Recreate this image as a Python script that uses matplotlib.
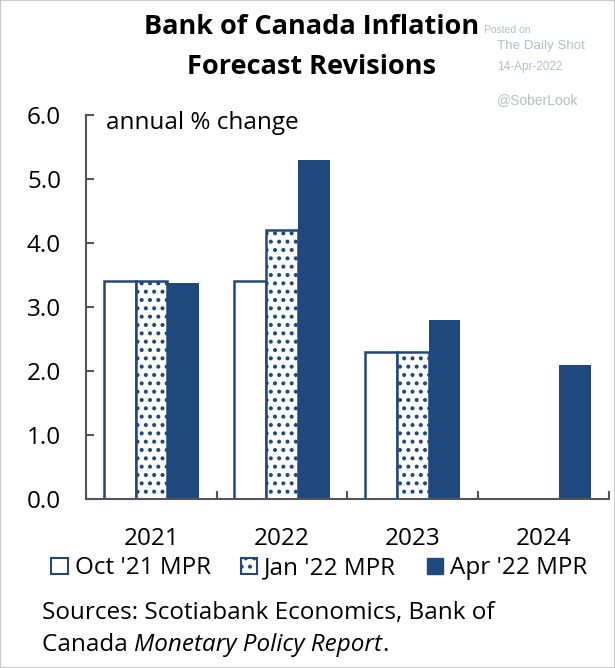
import numpy as np
import matplotlib
matplotlib.use('Agg')
import matplotlib.pyplot as plt
from matplotlib.patches import Patch, Rectangle

# data
years = ['2021', '2022', '2023', '2024']
series_names = ["Oct '21 MPR", "Jan '22 MPR", "Apr '22 MPR"]
oct21 = [3.4, 3.4, 2.3, np.nan]
jan22 = [3.4, 4.2, 2.3, np.nan]
apr22 = [3.38, 5.3, 2.8, 2.1]
yticks = [0, 1, 2, 3, 4, 5, 6]

blue = '#1F497D'
fs = 17.5
plt.rcParams['font.family'] = ['Open Sans', 'DejaVu Sans']
plt.rcParams['hatch.linewidth'] = 1.7

fig = plt.figure(figsize=(6.15, 6.68), dpi=100)
ax = fig.add_axes([0.140, 0.253, 0.850, 0.575])

x = np.arange(len(years))
w = 0.243
ax.bar(x - w, oct21, w, color='white', edgecolor=blue, linewidth=1.8)
ax.bar(x, jan22, w, color='white', edgecolor=blue, linewidth=1.8, hatch='..')
ax.bar(x + w, apr22, w, color=blue, edgecolor=blue, linewidth=0)

ax.set_xlim(-0.5, 3.5)
ax.set_ylim(0, 6)
ax.set_yticks(yticks)
ax.set_yticklabels([f'{v:.1f}' for v in yticks])
ax.set_xticks([-0.5, 0.5, 1.5, 2.5, 3.5])
ax.set_xticklabels([])
ax.set_xticks(x, minor=True)
ax.set_xticklabels(years, minor=True)
ax.tick_params(axis='x', which='minor', length=0, labelsize=fs, pad=20)
ax.tick_params(axis='x', which='major', direction='in', length=6, width=1.5, color='#555555')
ax.tick_params(axis='y', direction='in', length=6, width=1.5, color='#555555', labelsize=fs, pad=18)
for s in ['top', 'right']:
    ax.spines[s].set_visible(False)
for s in ['left', 'bottom']:
    ax.spines[s].set_color('#555555')
    ax.spines[s].set_linewidth(1.5)
# little top cap on the y axis
ax.plot([0, 0.012], [6, 6], transform=ax.get_yaxis_transform(), color='#555555', lw=1.5, clip_on=False)

ax.text(0.038, 5.87, 'annual % change', transform=ax.get_yaxis_transform(), fontsize=fs, va='center', ha='left')

fig.text(0.507, 0.949, 'Bank of Canada Inflation', ha='center', va='baseline', fontsize=19.5, fontweight='bold')
fig.text(0.507, 0.889, 'Forecast Revisions', ha='center', va='baseline', fontsize=19.5, fontweight='bold')

# watermark
wm = '#b5bdcc'
fig.text(0.787, 0.955, 'Posted on', fontsize=7.5, color=wm, va='center', family='Liberation Sans')
fig.text(0.808, 0.931, 'The Daily Shot', fontsize=9.6, color=wm, va='center', family='Liberation Sans')
fig.text(0.808, 0.900, '14-Apr-2022', fontsize=8.5, color=wm, va='center', family='Liberation Sans')
fig.text(0.808, 0.851, '@SoberLook', fontsize=10, color=wm, va='center', family='Liberation Sans')

handles = [Patch(facecolor='white', edgecolor=blue, linewidth=1.5),
           Patch(facecolor='white', edgecolor=blue, linewidth=1.5, hatch='..'),
           Patch(facecolor=blue, edgecolor=blue)]
fig.legend(handles, series_names, loc='center', bbox_to_anchor=(0.519, 0.149), ncol=3, frameon=False,
           fontsize=fs, handlelength=0.68, handleheight=0.68, handletextpad=0.28, columnspacing=1.25,
           borderaxespad=0, borderpad=0)

fig.text(0.068, 0.083, 'Sources: Scotiabank Economics, Bank of', fontsize=fs, va='center')
t1 = fig.text(0.068, 0.034, 'Canada ', fontsize=fs, va='center')
fig.canvas.draw()
bb = t1.get_window_extent()
t2 = fig.text(bb.x1 / fig.bbox.width, 0.034, 'Monetary Policy Report', fontsize=fs, va='center', style='italic')
fig.canvas.draw()
bb2 = t2.get_window_extent()
fig.text(bb2.x1 / fig.bbox.width, 0.034, '.', fontsize=fs, va='center')

fig.patches.append(Rectangle((0, 0), 1, 1, transform=fig.transFigure, fill=False,
                             edgecolor='#c8c8c8', linewidth=1.5))

fig.savefig('out.png', dpi=100)
